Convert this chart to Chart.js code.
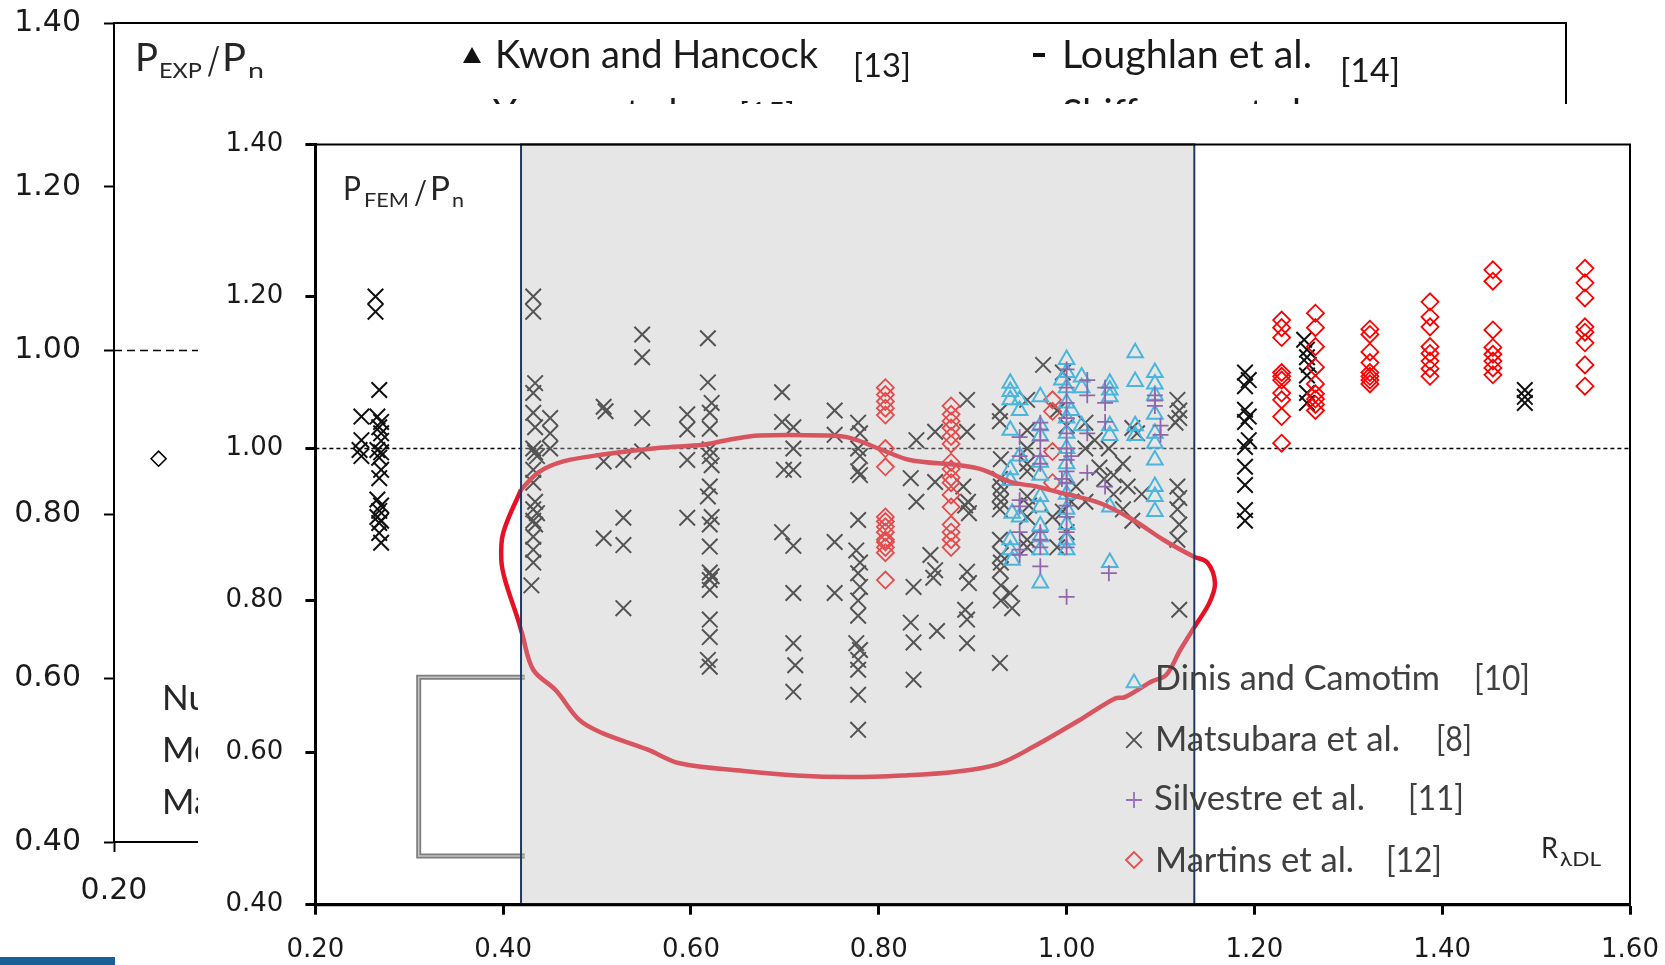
<!DOCTYPE html>
<html>
<head>
<meta charset="utf-8">
<script src="https://cdn.jsdelivr.net/npm/chart.js@4.4.1/dist/chart.umd.min.js"></script>
<style>
  html, body { margin: 0; padding: 0; background: #fff; overflow: hidden; }
  #back { position: absolute; left: 0; top: 0; }
  #front { position: absolute; left: 198px; top: 104px; background: #fff; }
  #bar { position: absolute; left: 0; top: 957px; width: 115px; height: 8px; background: #1a5f96; }
</style>
</head>
<body>
<canvas id="back" width="1665" height="965"></canvas>
<canvas id="front" width="1467" height="861"></canvas>
<div id="bar"></div>
<script>
// ---- tick values ----
const yTickValues = [0.4, 0.6, 0.8, 1.0, 1.2, 1.4];
const xTickValues = [0.2, 0.4, 0.6, 0.8, 1.0, 1.2, 1.4, 1.6];

// ---- back (experimental) chart ----
const backRefLine = [[0.2, 1.0], [1.6, 1.0]];
const backPoints = [[0.243, 0.868]];
const backLegend = ['Kwon and Hancock', 'Loughlan et al.', 'Young et al.', 'Shifferaw et al.'];
const backLegendRefs = ['[13]', '[14]', '[15]'];
const backNotes = ['Number of tests', 'Mean', 'Max'];

// ---- front (FEM) chart ----
const refLine = [[0.2, 1.0], [1.6, 1.0]];
const shadeRange = [0.419, 1.136];

const matsubara = [
  [0.264,1.200],[0.264,1.180],[0.268,1.077],[0.249,1.042],[0.266,1.042],[0.270,1.035],[0.268,1.028],
  [0.270,1.020],[0.249,1.011],[0.270,1.010],[0.247,0.998],[0.266,0.998],[0.270,0.995],[0.249,0.990],
  [0.268,0.988],[0.270,0.972],[0.268,0.961],[0.266,0.933],[0.270,0.925],[0.268,0.918],[0.266,0.910],
  [0.270,0.905],[0.268,0.902],[0.268,0.889],[0.270,0.876],
  [0.432,1.200],[0.432,1.180],[0.434,1.086],[0.432,1.073],[0.432,1.047],[0.434,1.028],[0.450,1.040],
  [0.450,1.020],[0.450,1.000],[0.432,1.000],[0.434,0.995],[0.436,0.990],[0.432,0.972],[0.432,0.955],
  [0.434,0.930],[0.432,0.920],[0.436,0.915],[0.432,0.905],[0.434,0.900],[0.432,0.884],[0.432,0.867],
  [0.432,0.850],[0.430,0.820],
  [0.507,1.055],[0.509,1.049],[0.507,0.983],[0.507,0.882],
  [0.528,0.985],[0.528,0.909],[0.528,0.873],[0.528,0.790],
  [0.548,1.150],[0.548,1.120],[0.548,1.040],[0.548,0.996],
  [0.596,1.045],[0.596,1.025],[0.596,0.985],[0.596,0.909],
  [0.618,1.145],[0.618,1.087],[0.622,1.060],[0.620,1.047],[0.620,1.026],[0.620,0.999],[0.620,0.990],
  [0.622,0.978],[0.620,0.950],[0.618,0.937],[0.622,0.910],[0.620,0.900],[0.620,0.871],[0.620,0.837],
  [0.622,0.832],[0.620,0.827],[0.620,0.814],[0.620,0.775],[0.620,0.752],[0.618,0.722],[0.620,0.713],
  [0.697,1.074],[0.697,1.035],[0.699,0.972],[0.697,0.890],
  [0.709,1.028],[0.709,1.000],[0.709,0.972],[0.709,0.872],[0.709,0.810],[0.709,0.744],[0.711,0.715],[0.709,0.680],
  [0.753,1.050],[0.753,1.018],[0.753,0.877],[0.753,0.810],
  [0.778,1.034],[0.780,1.020],[0.778,1.000],[0.780,0.990],[0.778,0.970],[0.780,0.965],[0.778,0.906],
  [0.776,0.866],[0.780,0.850],[0.778,0.836],[0.780,0.818],[0.778,0.800],[0.778,0.780],[0.776,0.744],
  [0.780,0.735],[0.778,0.722],[0.778,0.709],[0.778,0.676],[0.778,0.630],
  [0.840,1.011],[0.834,0.961],[0.840,0.930],[0.837,0.818],[0.834,0.771],[0.837,0.745],[0.837,0.696],
  [0.855,0.860],[0.860,0.840],[0.858,0.830],
  [0.860,1.022],[0.860,0.956],[0.862,0.760],
  [0.894,1.064],[0.894,1.022],[0.892,0.925],[0.896,0.915],[0.890,0.950],[0.895,0.930],[0.894,0.838],
  [0.896,0.823],[0.892,0.788],[0.894,0.775],[0.894,0.744],
  [0.929,1.049],[0.929,1.036],[0.930,0.986],[0.929,0.960],[0.930,0.950],[0.929,0.940],[0.930,0.930],
  [0.929,0.920],[0.929,0.880],[0.930,0.860],[0.930,0.850],[0.929,0.840],[0.930,0.820],[0.930,0.800],[0.929,0.718],
  [0.940,0.810],[0.942,0.790],
  [0.958,1.064],[0.958,1.024],[0.958,1.000],[0.958,0.980],[0.958,0.970],[0.958,0.937],[0.960,0.925],
  [0.958,0.910],[0.958,0.880],[0.958,0.870],
  [0.975,1.110],[0.996,1.100],[0.990,1.050],[1.000,1.030],[0.996,0.917],[1.020,1.034],[1.020,1.000],
  [1.020,0.930],[1.030,1.011],[1.060,0.980],[1.070,1.027],[1.075,1.020],[1.040,0.960],[1.050,0.940],
  [1.060,0.920],[1.035,0.975],[1.045,1.000],[1.050,0.965],[1.065,0.950],[1.080,0.940],[1.070,0.905],
  [1.010,0.950],[1.000,0.890],[0.990,0.870],[0.985,0.910],[1.005,0.930],
  [1.118,1.064],[1.120,1.050],[1.116,1.034],[1.120,1.040],[1.118,0.950],[1.120,0.935],[1.118,0.920],
  [1.120,0.900],[1.118,0.880],[1.120,0.788],
  [1.190,1.100],[1.194,1.090],[1.190,1.082],[1.190,1.051],[1.194,1.042],[1.190,1.035],[1.194,1.011],
  [1.190,1.002],[1.190,0.976],[1.190,0.952],[1.190,0.919],[1.190,0.905],
  [1.253,1.143],[1.256,1.130],[1.256,1.120],[1.258,1.110],[1.256,1.096],[1.256,1.073],[1.256,1.060],
  [1.488,1.077],[1.488,1.068],[1.488,1.060]
];

const dinis = [
  [0.940,1.086],[0.940,1.075],[0.940,1.064],[0.940,1.024],[0.940,0.972],[0.940,0.958],[0.942,0.915],
  [0.940,0.880],[0.940,0.867],[0.942,0.853],
  [0.950,1.064],[0.950,1.050],[0.950,0.990],[0.950,0.910],
  [0.972,1.068],[0.972,1.030],[0.972,1.016],[0.972,0.982],[0.972,0.965],[0.972,0.937],[0.972,0.923],
  [0.972,0.898],[0.972,0.884],[0.972,0.867],[0.972,0.823],
  [1.000,1.117],[1.000,1.100],[1.000,1.080],[1.000,1.060],[1.000,1.040],[1.000,1.020],[1.000,1.000],
  [1.000,0.980],[1.000,0.960],[1.000,0.940],[1.000,0.920],[1.000,0.900],[1.000,0.880],[1.000,0.867],
  [0.995,1.090],[1.005,1.050],
  [1.016,1.094],[1.016,1.080],[1.016,1.030],
  [1.046,1.086],[1.046,1.077],[1.046,1.068],[1.046,1.030],[1.046,1.017],[1.046,0.923],[1.046,0.850],
  [1.073,1.126],[1.073,1.088],[1.073,1.030],[1.073,1.017],
  [1.094,1.100],[1.094,1.085],[1.094,1.070],[1.094,1.045],[1.094,1.020],[1.094,1.007],[1.094,0.985],
  [1.094,0.950],[1.094,0.937],[1.094,0.917]
];

const silvestre = [
  [0.950,1.015],[0.950,0.990],[0.950,0.932],[0.950,0.924],[0.950,0.890],[0.950,0.867],[0.950,0.860],
  [0.972,1.034],[0.972,1.025],[0.972,1.011],[0.972,0.990],[0.972,0.980],[0.972,0.890],[0.972,0.880],
  [0.972,0.870],[0.972,0.845],
  [1.000,1.104],[1.000,1.080],[1.000,1.060],[1.000,1.040],[1.000,1.020],[1.000,1.000],[1.000,0.985],
  [1.000,0.970],[1.000,0.955],[1.000,0.940],[1.000,0.925],[1.000,0.910],[1.000,0.890],[1.000,0.870],
  [1.000,0.805],[1.005,0.990],[0.995,0.960],
  [1.022,1.090],[1.022,1.070],[1.022,1.020],[1.022,0.968],
  [1.041,1.080],[1.041,1.060],[1.041,1.035],[1.041,0.950],[1.045,0.836],
  [1.094,1.070],[1.094,1.063],[1.094,1.056],[1.100,1.030],[1.100,1.018]
];

const martins = [
  [0.807,1.080],[0.807,1.071],[0.807,1.062],[0.807,1.053],[0.807,1.044],[0.807,1.000],[0.807,0.976],
  [0.807,0.910],[0.807,0.904],[0.807,0.897],[0.807,0.890],[0.807,0.880],[0.807,0.877],[0.807,0.870],
  [0.807,0.863],[0.807,0.827],
  [0.877,1.056],[0.877,1.045],[0.877,1.036],[0.877,1.027],[0.877,1.016],[0.877,1.006],[0.877,0.982],
  [0.877,0.973],[0.877,0.962],[0.877,0.955],[0.877,0.939],[0.877,0.923],[0.877,0.900],[0.877,0.890],
  [0.877,0.880],[0.877,0.870],
  [0.985,1.064],[0.985,1.049],[0.985,0.996],[0.985,0.955],
  [1.229,1.169],[1.229,1.159],[1.229,1.146],[1.229,1.100],[1.229,1.095],[1.229,1.090],[1.229,1.073],
  [1.229,1.064],[1.229,1.042],[1.229,1.007],
  [1.265,1.178],[1.265,1.159],[1.265,1.134],[1.265,1.107],[1.265,1.085],[1.265,1.072],[1.265,1.065],
  [1.265,1.058],[1.265,1.050],
  [1.323,1.157],[1.323,1.150],[1.323,1.127],[1.323,1.113],[1.323,1.100],[1.323,1.095],[1.323,1.090],[1.323,1.085],
  [1.387,1.193],[1.387,1.173],[1.387,1.160],[1.387,1.134],[1.387,1.125],[1.387,1.115],[1.387,1.105],[1.387,1.095],
  [1.454,1.235],[1.454,1.220],[1.454,1.156],[1.454,1.133],[1.454,1.124],[1.454,1.115],[1.454,1.106],[1.454,1.097],
  [1.552,1.237],[1.552,1.218],[1.552,1.198],[1.552,1.160],[1.552,1.153],[1.552,1.139],[1.552,1.110],[1.552,1.082]
];

// hand drawn red loop
const loopPts = [
  [0.419,0.946],[0.438,0.969],[0.464,0.983],[0.506,0.992],[0.567,1.001],[0.613,1.005],[0.638,1.011],
  [0.673,1.017],[0.745,1.017],[0.769,1.014],[0.804,0.998],[0.833,0.985],[0.886,0.978],[0.911,0.972],
  [0.940,0.956],[0.968,0.950],[0.990,0.943],[1.036,0.928],[1.071,0.906],[1.103,0.880],[1.135,0.858],
  [1.150,0.850],[1.158,0.823],[1.152,0.797],[1.136,0.765],[1.121,0.735],[1.106,0.702],[1.091,0.694],
  [1.062,0.673],[1.051,0.671],[1.014,0.643],[0.965,0.608],[0.927,0.585],[0.882,0.575],[0.825,0.570],
  [0.769,0.568],[0.712,0.570],[0.656,0.576],[0.588,0.586],[0.554,0.604],[0.505,0.626],[0.481,0.643],
  [0.456,0.682],[0.432,0.709],[0.420,0.757],[0.416,0.774],[0.402,0.827],[0.398,0.853],[0.400,0.889],
  [0.419,0.946]
];
// grey bracket left over from the legend box behind
const bracketPts = [[0.423,0.699],[0.310,0.699],[0.310,0.464],[0.423,0.464]];

const legendLabels = ['Dinis and Camotim', 'Matsubara et al.', 'Silvestre et al.', 'Martins et al.'];
const legendRefs = ['[10]', '[8]', '[11]', '[12]'];

// ---------------------------------------------------------------
const OX = 198, OY = 104;   // offset of the front chart canvas

function fitText(ctx, str, x, y, font, w, color) {
  ctx.save();
  ctx.font = font;
  ctx.fillStyle = color || '#262626';
  ctx.textBaseline = 'alphabetic';
  ctx.textAlign = 'left';
  const m = ctx.measureText(str).width;
  ctx.translate(x, y);
  if (w) ctx.scale(w / m, 1);
  ctx.fillText(str, 0, 0);
  ctx.restore();
  return w ? w / m : 1;
}

function scaledText(ctx, str, x, y, font, sx, color) {
  ctx.save();
  ctx.font = font;
  ctx.fillStyle = color || '#262626';
  ctx.textBaseline = 'alphabetic';
  ctx.translate(x, y);
  ctx.scale(sx, 1);
  ctx.fillText(str, 0, 0);
  ctx.restore();
}

function marker(ctx, style, cx, cy, r, color, lw) {
  ctx.save();
  ctx.strokeStyle = color;
  ctx.lineWidth = lw;
  ctx.beginPath();
  if (style === 'triangle') {
    for (let k = 0; k < 3; k++) {
      const a = k * 2 * Math.PI / 3;
      const px = cx + Math.sin(a) * r, py = cy - Math.cos(a) * r;
      if (k === 0) ctx.moveTo(px, py); else ctx.lineTo(px, py);
    }
    ctx.closePath();
  } else if (style === 'crossRot') {
    const d = r * Math.SQRT1_2;
    ctx.moveTo(cx - d, cy - d); ctx.lineTo(cx + d, cy + d);
    ctx.moveTo(cx + d, cy - d); ctx.lineTo(cx - d, cy + d);
  } else if (style === 'cross') {
    ctx.moveTo(cx - r, cy); ctx.lineTo(cx + r, cy);
    ctx.moveTo(cx, cy - r); ctx.lineTo(cx, cy + r);
  } else {
    ctx.moveTo(cx - r, cy); ctx.lineTo(cx, cy - r);
    ctx.lineTo(cx + r, cy); ctx.lineTo(cx, cy + r);
    ctx.closePath();
  }
  ctx.stroke();
  ctx.restore();
}

function fixedTicks(values) {
  return function (s) { s.ticks = values.map(v => ({ value: v })); };
}
// pin axis sizes so the plot area lands where the picture has it
function fitY(w) {
  return function (s) { s.width = w; s.paddingTop = 0; s.paddingBottom = 0; };
}
function fitX(h) {
  return function (s) { s.height = h; s.paddingLeft = 0; s.paddingRight = 0; };
}

const tickFontFront = { family: 'DejaVu Sans', size: 26 };
const tickFontBack = { family: 'DejaVu Sans', size: 30 };
const tickColor = '#1a1a1a';

// ---------------- back chart ----------------
const backDecor = {
  id: 'backDecor',
  afterDraw(chart) {
    const { ctx, chartArea: a } = chart;
    ctx.save();
    ctx.strokeStyle = '#000';
    ctx.lineWidth = 2;
    ctx.beginPath();
    ctx.moveTo(a.left, a.top);
    ctx.lineTo(a.right, a.top);
    ctx.lineTo(a.right, a.bottom);
    ctx.stroke();

    // legend rows
    ctx.fillStyle = '#111';
    ctx.beginPath();
    ctx.moveTo(472, 47); ctx.lineTo(481, 63); ctx.lineTo(463, 63); ctx.closePath();
    ctx.fill();
    const sx = fitText(ctx, backLegend[0], 495, 68, '39px Lato', 323, '#1a1a1a');
    fitText(ctx, backLegendRefs[0], 853, 77, '33px Lato', 58, '#1a1a1a');
    ctx.fillStyle = '#111';
    ctx.fillRect(1033, 53, 12, 4);
    fitText(ctx, backLegend[1], 1062, 68, '39px Lato', 250, '#1a1a1a');
    fitText(ctx, backLegendRefs[1], 1340, 82, '33px Lato', 60, '#1a1a1a');
    // second row, almost fully hidden behind the front chart
    scaledText(ctx, backLegend[2], 493, 127, '39px Lato', sx, '#1a1a1a');
    fitText(ctx, backLegendRefs[2], 739, 126, '33px Lato', 56, '#1a1a1a');
    scaledText(ctx, backLegend[3], 1062, 127, '39px Lato', sx, '#1a1a1a');

    // axis title P_EXP / P_n
    fitText(ctx, 'P', 135, 71, '38px Lato', 23, '#262626');
    fitText(ctx, 'EXP', 159, 78, '21px Lato', 43, '#262626');
    fitText(ctx, '/', 207, 75, '38px Lato', 13, '#262626');
    fitText(ctx, 'P', 222, 71, '38px Lato', 24, '#262626');
    fitText(ctx, 'n', 248, 78, '22px Lato', 16, '#262626');

    // notes (mostly hidden behind the front chart)
    const base = [710, 762, 814];
    backNotes.forEach((t, i) => fitText(ctx, t, 162, base[i], '35px Lato', 0, '#262626'));
    ctx.restore();
  }
};

new Chart(document.getElementById('back'), {
  type: 'scatter',
  data: {
    datasets: [
      {
        data: backPoints.map(p => ({ x: p[0], y: p[1] })),
        pointStyle: 'rectRot', pointRadius: 7.5, borderColor: '#000', borderWidth: 1.6,
        backgroundColor: '#fff'
      },
      {
        data: backRefLine.map(p => ({ x: p[0], y: p[1] })),
        showLine: true, pointRadius: 0, borderColor: '#000', borderWidth: 1.5, borderDash: [8, 5]
      }
    ]
  },
  options: {
    responsive: false,
    animation: false,
    events: [],
    layout: { padding: { left: 0, top: 23, right: 99, bottom: 0 } },
    plugins: { legend: { display: false }, tooltip: { enabled: false } },
    scales: {
      x: {
        type: 'linear', min: 0.2, max: 1.6,
        afterBuildTicks: fixedTicks(xTickValues),
        afterFit: fitX(123),
        ticks: { callback: v => v.toFixed(2), font: tickFontBack, color: tickColor, padding: 21, maxRotation: 0, autoSkip: false },
        grid: { drawOnChartArea: false, drawTicks: true, tickLength: 10, tickColor: '#000', tickWidth: 2 },
        border: { display: true, color: '#000', width: 2 }
      },
      y: {
        type: 'linear', min: 0.4, max: 1.4,
        afterBuildTicks: fixedTicks(yTickValues),
        afterFit: fitY(114),
        ticks: { callback: v => v.toFixed(2), font: tickFontBack, color: tickColor, padding: 23 },
        grid: { drawOnChartArea: false, drawTicks: true, tickLength: 10, tickColor: '#000', tickWidth: 2 },
        border: { display: true, color: '#000', width: 2 }
      }
    }
  },
  plugins: [backDecor]
});

// ---------------- front chart ----------------
const legendStyles = [
  { style: 'triangle', r: 8.5, color: '#52b8e0', lw: 2, cy: 683 },
  { style: 'crossRot', r: 11, color: '#505050', lw: 1.8, cy: 740 },
  { style: 'cross', r: 8, color: '#9a70bd', lw: 1.8, cy: 800 },
  { style: 'rectRot', r: 8, color: '#e65050', lw: 1.8, cy: 860 }
];
const legendText = [
  { x: 1155, y: 690, w: 285, rx: 1474, rw: 56 },
  { x: 1155, y: 751, w: 245, rx: 1436, rw: 36 },
  { x: 1154, y: 810, w: 211, rx: 1408, rw: 56 },
  { x: 1155, y: 872, w: 199, rx: 1386, rw: 56 }
];

const frontDecor = {
  id: 'frontDecor',
  afterDatasetsDraw(chart) {
    const { ctx, chartArea: a, scales: { x } } = chart;
    const x0 = x.getPixelForValue(shadeRange[0]);
    const x1 = x.getPixelForValue(shadeRange[1]);
    ctx.save();
    ctx.fillStyle = 'rgba(191,191,191,0.39)';
    ctx.fillRect(x0, a.top, x1 - x0, a.bottom - a.top);
    ctx.strokeStyle = '#1f3864';
    ctx.lineWidth = 2;
    ctx.strokeRect(x0, a.top, x1 - x0, a.bottom - a.top);
    ctx.restore();
  },
  afterDraw(chart) {
    const { ctx, chartArea: a } = chart;
    ctx.save();
    ctx.strokeStyle = '#000';
    ctx.lineWidth = 2;
    ctx.beginPath();
    ctx.moveTo(a.left, a.top);
    ctx.lineTo(a.right, a.top);
    ctx.lineTo(a.right, a.bottom);
    ctx.stroke();
    ctx.lineWidth = 3;
    ctx.beginPath();
    ctx.moveTo(a.left - 1.5, a.bottom);
    ctx.lineTo(a.right, a.bottom);
    ctx.stroke();

    // legend
    legendLabels.forEach((lab, i) => {
      const m = legendStyles[i], t = legendText[i];
      marker(ctx, m.style, 1134 - OX, m.cy - OY, m.r, m.color, m.lw);
      fitText(ctx, lab, t.x - OX, t.y - OY, '35px Lato', t.w, '#404040');
      fitText(ctx, legendRefs[i], t.rx - OX, t.y - OY, '35px Lato', t.rw, '#404040');
    });

    // axis titles
    fitText(ctx, 'P', 343 - OX, 200 - OY, '32px Lato', 18, '#262626');
    fitText(ctx, 'FEM', 364 - OX, 207 - OY, '20px Lato', 45, '#262626');
    fitText(ctx, '/', 414 - OX, 204 - OY, '32px Lato', 13, '#262626');
    fitText(ctx, 'P', 430 - OX, 200 - OY, '32px Lato', 20, '#262626');
    fitText(ctx, 'n', 452 - OX, 207 - OY, '20px Lato', 12, '#262626');
    fitText(ctx, 'R', 1541 - OX, 858 - OY, '29px Lato', 17, '#262626');
    fitText(ctx, 'λDL', 1560 - OX, 866 - OY, '20px Lato', 41, '#262626');
    ctx.restore();
  }
};

const pts = arr => arr.map(p => ({ x: p[0], y: p[1] }));

new Chart(document.getElementById('front'), {
  type: 'scatter',
  data: {
    datasets: [
      { data: pts(loopPts), showLine: true, tension: 0.35, pointRadius: 0, borderColor: 'rgb(232,17,35)', borderWidth: 4.5 },
      { data: pts(bracketPts), showLine: true, tension: 0, pointRadius: 0, borderColor: '#c4c4c4', borderWidth: 1.5 },
      { data: pts(bracketPts), showLine: true, tension: 0, pointRadius: 0, borderColor: '#7f7f7f', borderWidth: 5 },
      { data: pts(silvestre), pointStyle: 'cross', pointRadius: 8, borderColor: '#7030a0', borderWidth: 1.8, backgroundColor: 'rgba(0,0,0,0)' },
      { data: pts(dinis), pointStyle: 'triangle', pointRadius: 9, borderColor: '#00b0f0', borderWidth: 2, backgroundColor: 'rgba(0,0,0,0)' },
      { data: pts(martins), pointStyle: 'rectRot', pointRadius: 8.5, borderColor: '#ff0000', borderWidth: 1.8, backgroundColor: 'rgba(0,0,0,0)' },
      { data: pts(matsubara), pointStyle: 'crossRot', pointRadius: 11, borderColor: '#111', borderWidth: 2, backgroundColor: 'rgba(0,0,0,0)' },
      { data: pts(refLine), showLine: true, pointRadius: 0, borderColor: '#000', borderWidth: 1.5, borderDash: [4, 3] }
    ]
  },
  options: {
    responsive: false,
    animation: false,
    events: [],
    layout: { padding: { left: 0, top: 40.4, right: 35, bottom: 0 } },
    plugins: { legend: { display: false }, tooltip: { enabled: false } },
    scales: {
      x: {
        type: 'linear', min: 0.2, max: 1.6,
        afterBuildTicks: fixedTicks(xTickValues),
        afterFit: fitX(60.3),
        ticks: { callback: v => v.toFixed(2), font: tickFontFront, color: tickColor, padding: 20, maxRotation: 0, autoSkip: false },
        grid: { drawOnChartArea: false, drawTicks: true, tickLength: 10, tickColor: '#000', tickWidth: 3 },
        border: { display: true, color: '#000', width: 3 }
      },
      y: {
        type: 'linear', min: 0.4, max: 1.4,
        afterBuildTicks: fixedTicks(yTickValues),
        afterFit: fitY(117.4),
        ticks: { callback: v => v.toFixed(2), font: tickFontFront, color: tickColor, padding: 22 },
        grid: { drawOnChartArea: false, drawTicks: true, tickLength: 10, tickColor: '#000', tickWidth: 3 },
        border: { display: true, color: '#000', width: 3 }
      }
    }
  },
  plugins: [frontDecor]
});
</script>
</body>
</html>
